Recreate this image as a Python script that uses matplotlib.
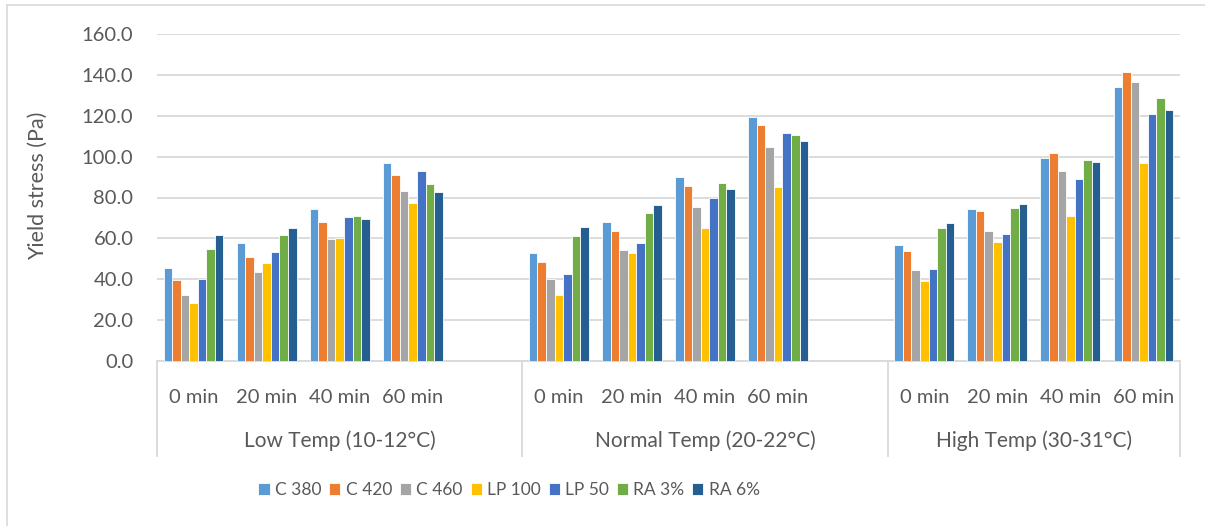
import matplotlib
matplotlib.use("Agg")
import matplotlib.pyplot as plt
import numpy as np
from matplotlib.lines import Line2D
from matplotlib.transforms import blended_transform_factory

plt.rcParams['font.family'] = ['Lato', 'DejaVu Sans']

groups = ["Low Temp (10-12°C)", "Normal Temp (20-22°C)", "High Temp (30-31°C)"]
times = ["0 min", "20 min", "40 min", "60 min"]
series = ["C 380", "C 420", "C 460", "LP 100", "LP 50", "RA 3%", "RA 6%"]
colors = ["#5B9BD5", "#ED7D31", "#A5A5A5", "#FFC000", "#4472C4", "#70AD47", "#255E91"]

# values per series: Low(0,20,40,60), Normal(0,20,40,60), High(0,20,40,60)
c380 = [45.7, 57.6, 74.6, 96.9, 52.7, 68.1, 89.9, 119.3, 56.6, 74.3, 99.5, 134.0]
c420 = [39.5, 51.1, 68.1, 91.1, 48.5, 63.6, 85.7, 115.3, 53.7, 73.2, 101.6, 141.6]
c460 = [32.4, 43.4, 59.8, 83.1, 40.0, 54.1, 75.3, 104.9, 44.4, 63.4, 93.2, 136.4]
lp100 = [28.3, 48.1, 60.2, 77.2, 32.5, 53.0, 64.9, 85.2, 39.3, 58.0, 70.9, 96.7]
lp50 = [40.3, 53.3, 70.6, 93.0, 42.8, 57.6, 80.0, 111.4, 44.9, 62.3, 88.9, 120.7]
ra3 = [54.8, 61.6, 71.1, 86.8, 61.3, 72.4, 87.2, 110.6, 65.2, 75.1, 98.5, 128.6]
ra6 = [61.8, 65.0, 69.3, 82.8, 65.4, 76.1, 84.4, 107.8, 67.5, 76.7, 97.4, 122.9]
values = [c380, c420, c460, lp100, lp50, ra3, ra6]

fig = plt.figure(figsize=(12.05, 5.26), dpi=100)
ax = fig.add_axes([157/1205, 1 - 361/526, (1180 - 157)/1205, (361 - 34)/526])

# category positions: 4 per group plus an empty slot between groups
pos = []
for g in range(len(groups)):
    for t in range(len(times)):
        pos.append(g * 5 + t)
pos = np.array(pos, dtype=float)

n = len(series)
width = 0.82 / n
for i, (name, vals, col) in enumerate(zip(series, values, colors)):
    off = (i - (n - 1) / 2) * width
    ax.bar(pos + off, vals, width=width, color=col, edgecolor="white",
           linewidth=0.6, label=name, zorder=3)

ax.set_xlim(-0.5, 13.5)
ax.set_ylim(0, 160)
ax.set_yticks(np.arange(0, 161, 20))
ax.set_yticklabels([f"{v:.1f}" for v in np.arange(0, 161, 20)])
ax.yaxis.grid(True, color="#D9D9D9", linewidth=1.3, zorder=0)
ax.set_axisbelow(True)
for s in ["top", "right", "left"]:
    ax.spines[s].set_visible(False)
ax.spines["bottom"].set_color("#D9D9D9")
ax.spines["bottom"].set_linewidth(1.3)
ax.tick_params(axis="y", length=0, labelsize=14.5, labelcolor="#595959", pad=17)
ax.set_xticks(pos)
ax.set_xticklabels(times * len(groups))
ax.tick_params(axis="x", length=0, labelsize=14.5, labelcolor="#595959", pad=20)
ax.set_ylabel("Yield stress (Pa)", fontsize=15.5, color="#595959")
ax.yaxis.set_label_coords(-0.107, 0.535)

trans = blended_transform_factory(ax.transData, ax.transAxes)
bounds = [-0.5, 4.5, 9.5, 13.5]
for g, name in enumerate(groups):
    center = (bounds[g] + bounds[g + 1]) / 2
    ax.text(center, -0.245, name, transform=trans, ha="center", va="center",
            fontsize=15, color="#595959")
for xb in bounds:
    ax.add_line(Line2D([xb, xb], [0, -0.29], transform=trans, color="#D9D9D9",
                       linewidth=1.3, clip_on=False))

leg = fig.legend(loc="center", bbox_to_anchor=(509/1205, 1 - 490/526), ncol=7,
                 frameon=False, fontsize=12.5, handlelength=0.65, handleheight=0.65,
                 handletextpad=0.3, columnspacing=0.45)
for t in leg.get_texts():
    t.set_color("#595959")

# chart border
fig.add_artist(Line2D([6.5/1205, 6.5/1205], [0, 1 - 4.5/526], transform=fig.transFigure,
                      color="#D9D9D9", linewidth=1.2))
fig.add_artist(Line2D([6.5/1205, 1], [1 - 4.5/526, 1 - 4.5/526], transform=fig.transFigure,
                      color="#D9D9D9", linewidth=1.2))

fig.savefig("out.png", dpi=100)
